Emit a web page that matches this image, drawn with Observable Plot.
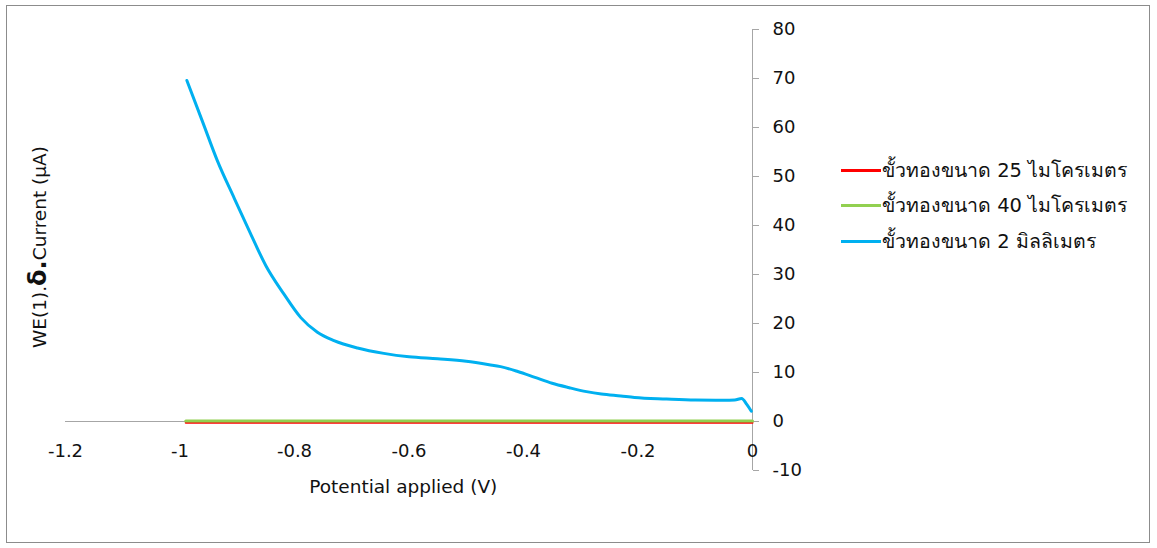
<!DOCTYPE html>
<html>
<head>
<meta charset="utf-8">
<script src="https://cdn.jsdelivr.net/npm/d3@7"></script>
<script src="https://cdn.jsdelivr.net/npm/@observablehq/plot@0.6"></script>
<style>
  html, body { margin: 0; padding: 0; background: #fff; }
  #wrap { position: relative; width: 1157px; height: 548px; overflow: hidden; }
  #frame { position: absolute; left: 6px; top: 5px; width: 1144px; height: 538px; border: 1.5px solid #8c8c8c; box-sizing: border-box; pointer-events: none; }
  #chart { position: absolute; left: 0; top: 0; }
  #legend { position: absolute; left: 841px; top: 0; font-family: 'DejaVu Sans', 'Noto Sans', sans-serif; font-size: 19.5px; color: #111; }
  .item { position: absolute; left: 0; display: flex; align-items: center; white-space: nowrap; }
  .swatch { width: 40px; height: 3px; margin-right: 1px; }
</style>
</head>
<body>
<div id="wrap">
  <div id="chart"></div>
  <div id="legend"></div>
  <div id="frame"></div>
</div>
<script>
// ---- data ----
const seriesNames = ["ขั้วทองขนาด 25 ไมโครเมตร", "ขั้วทองขนาด 40 ไมโครเมตร", "ขั้วทองขนาด 2 มิลลิเมตร"];
const seriesColors = ["#ff0000", "#92d050", "#00b0f0"];

const xFlat = [-0.99, -0.8, -0.6, -0.4, -0.2, -0.05, 0];
const yRed = [-0.25, -0.25, -0.25, -0.25, -0.25, -0.25, -0.25];
const yGreen = [0.1, 0.1, 0.1, 0.1, 0.1, 0.1, 0.1];

const xBlue = [-0.988, -0.96, -0.935, -0.905, -0.877, -0.85, -0.819, -0.789, -0.76, -0.731, -0.69, -0.644, -0.6, -0.55, -0.5, -0.46, -0.44, -0.41, -0.38, -0.35, -0.32, -0.29, -0.264, -0.23, -0.206, -0.15, -0.1, -0.05, -0.031, -0.019, -0.01, -0.002];
const yBlue = [69.6, 61, 53.3, 45.5, 38.4, 31.8, 26.1, 21.2, 18.2, 16.5, 15, 13.9, 13.2, 12.8, 12.3, 11.6, 11.2, 10.2, 9, 7.8, 6.9, 6.1, 5.6, 5.2, 4.9, 4.6, 4.4, 4.35, 4.4, 4.7, 3.5, 2.1];

const xTicks = [-1.2, -1, -0.8, -0.6, -0.4, -0.2, 0];
const yTicks = [-10, 0, 10, 20, 30, 40, 50, 60, 70, 80];
const xLabel = "Potential applied (V)";

// ---- build ----
const red = xFlat.map((x, i) => ({x, y: yRed[i]}));
const green = xFlat.map((x, i) => ({x, y: yGreen[i]}));
const blue = xBlue.map((x, i) => ({x, y: yBlue[i]}));

const font = "'DejaVu Sans', 'Noto Sans', sans-serif";
const axisColor = "#a6a6a6";
const chart = Plot.plot({
  width: 1157,
  height: 548,
  marginLeft: 65,
  marginRight: 405,
  marginTop: 29,
  marginBottom: 78,
  style: {fontFamily: font, fontSize: "18px", background: "transparent", color: "#111"},
  x: {domain: [-1.2, 0], axis: null},
  y: {domain: [-10, 80], axis: null},
  marks: [
    Plot.ruleY([0], {x1: -1.2, x2: 0, stroke: axisColor, strokeWidth: 1}),
    Plot.ruleX([0], {y1: -10, y2: 80, stroke: axisColor, strokeWidth: 1}),
    Plot.axisY({anchor: "right", ticks: yTicks, tickSize: 6, tickPadding: 14, stroke: axisColor, fill: "#111", fontSize: 18, label: null, tickFormat: d => String(d)}),
    Plot.text(xTicks, {x: d => d, y: 0, dy: 30, text: d => String(d), fill: "#111", fontSize: 18}),
    Plot.text([xLabel], {x: -0.61, frameAnchor: "bottom", dy: 22, text: d => d, fill: "#111", fontSize: 18.5}),
    Plot.line(red, {x: "x", y: "y", stroke: seriesColors[0], strokeWidth: 2}),
    Plot.line(green, {x: "x", y: "y", stroke: seriesColors[1], strokeWidth: 3}),
    Plot.line(blue, {x: "x", y: "y", stroke: seriesColors[2], strokeWidth: 3, curve: "monotone-x"})
  ]
});
document.getElementById("chart").appendChild(chart);

// y-axis title with bold δ
const svg = d3.select(chart);
const t = svg.append("text")
  .attr("transform", "translate(46,247) rotate(-90)")
  .attr("text-anchor", "middle")
  .attr("fill", "#111")
  .style("font-family", font)
  .style("font-size", "18.5px");
t.append("tspan").text("WE(1).");
t.append("tspan").attr("font-weight", "bold").style("font-size", "24px").text("δ.");
t.append("tspan").text("Current (μA)");

// legend
const legend = document.getElementById("legend");
const rowsY = [170, 205.5, 241];
seriesNames.forEach((name, i) => {
  const item = document.createElement("div");
  item.className = "item";
  item.style.top = (rowsY[i] - 14) + "px";
  item.style.height = "28px";
  const sw = document.createElement("div");
  sw.className = "swatch";
  sw.style.background = seriesColors[i];
  const tx = document.createElement("span");
  tx.textContent = name;
  item.appendChild(sw);
  item.appendChild(tx);
  legend.appendChild(item);
});
</script>
</body>
</html>
